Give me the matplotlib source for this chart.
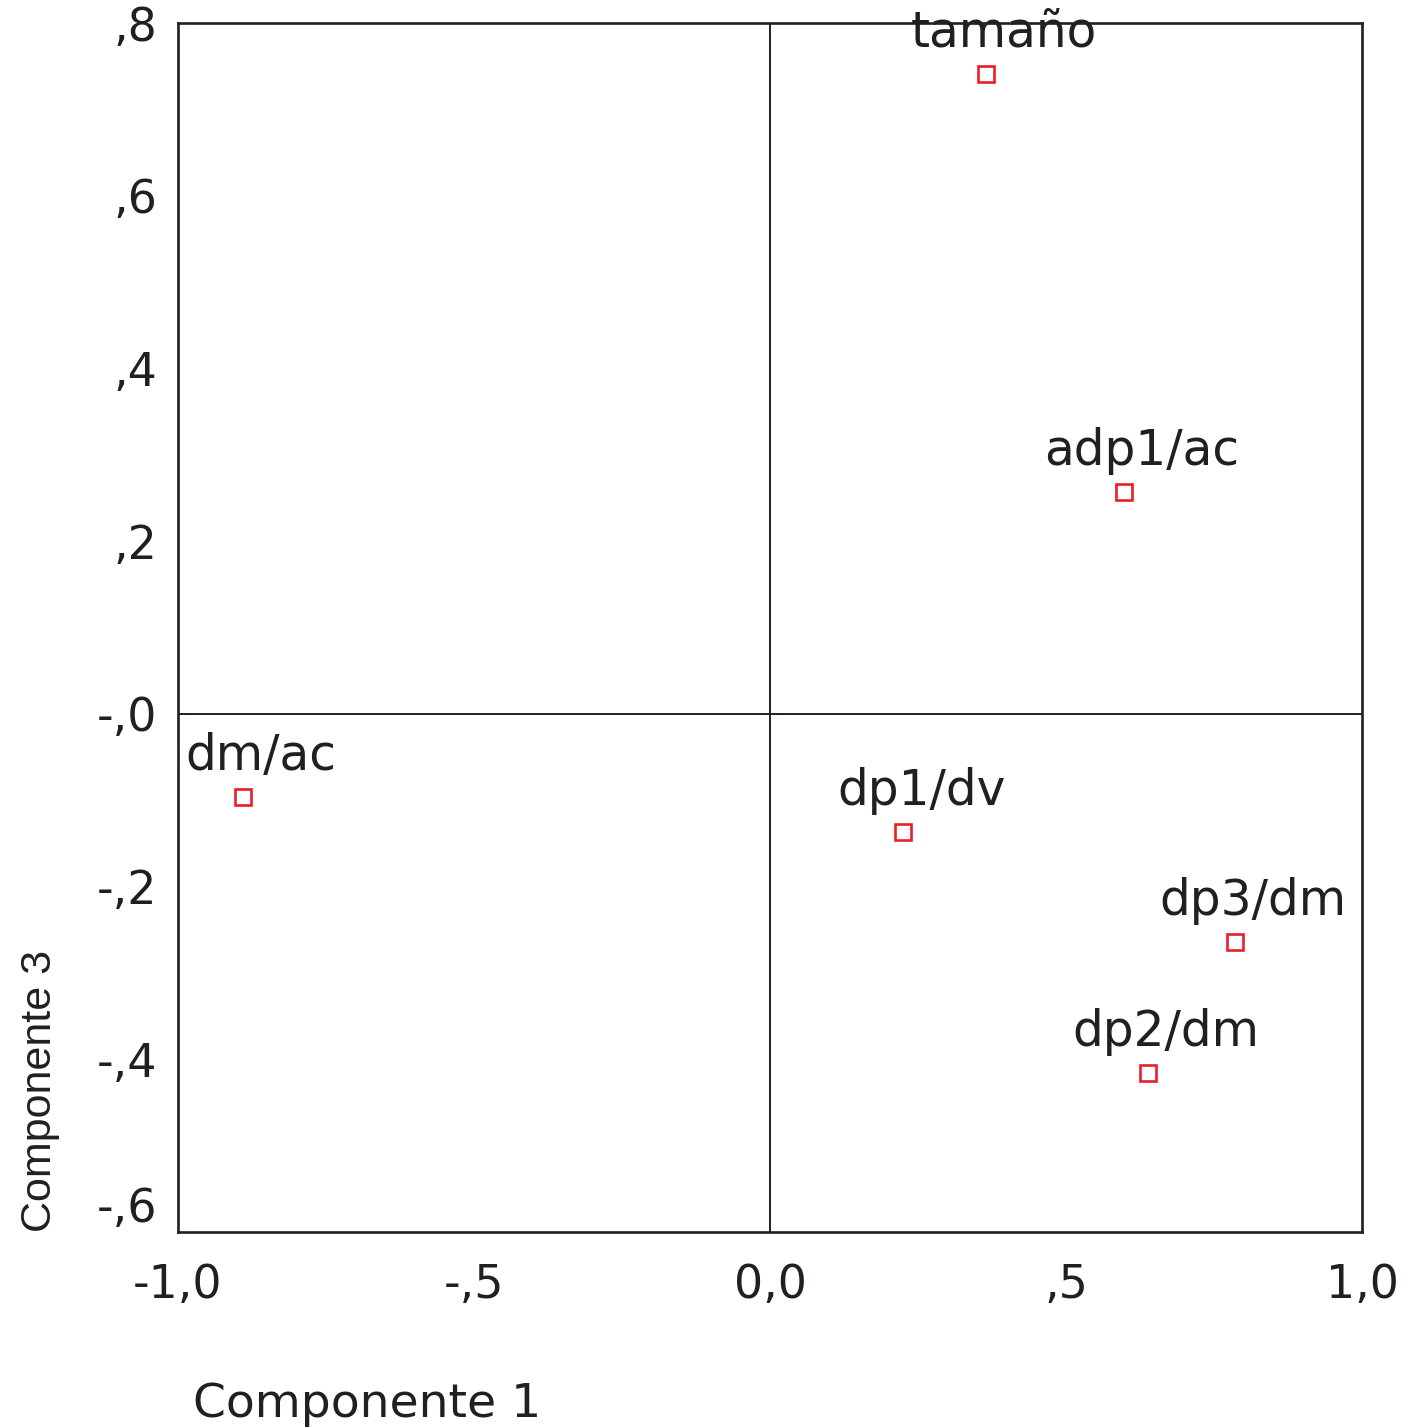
import numpy as np
import matplotlib
matplotlib.use("Agg")
import matplotlib.pyplot as plt

# Component loadings (component 1 vs component 3)
variables = ["tamaño", "adp1/ac", "dm/ac", "dp1/dv", "dp3/dm", "dp2/dm"]
comp1 = [0.365, 0.598, -0.891, 0.225, 0.785, 0.639]
comp3 = [0.741, 0.257, -0.096, -0.137, -0.264, -0.416]

xticks = [-1.0, -0.5, 0.0, 0.5, 1.0]
xticklabels = ["-1,0", "-,5", "0,0", ",5", "1,0"]
yticks = [-0.6, -0.4, -0.2, 0.0, 0.2, 0.4, 0.6, 0.8]
yticklabels = ["-,6", "-,4", "-,2", "-,0", ",2", ",4", ",6", ",8"]

ink = "#231f20"
red = "#e8202a"

plt.rcParams["font.family"] = ["DejaVu Sans"]

fig = plt.figure(figsize=(14.11, 14.28), dpi=100)
ax = fig.add_axes([0.12615, 0.13725, 0.83912, 0.84664])

ax.axhline(0, color=ink, lw=1.4, zorder=1)
ax.axvline(0, color=ink, lw=1.4, zorder=1)

ax.plot(comp1, comp3, linestyle="none", marker="s", markersize=12,
        markerfacecolor="white", markeredgecolor=red, markeredgewidth=1.9,
        zorder=3)

for name, x, y in zip(variables, comp1, comp3):
    ax.annotate(name, (x, y), xytext=(13, 19.5), textcoords="offset points",
                ha="center", va="baseline", fontsize=35, color=ink)

ax.set_xlim(-1.0, 1.0)
ax.set_ylim(-0.6, 0.8)
ax.set_xticks(xticks)
ax.set_xticklabels(xticklabels)
ax.set_yticks(yticks)
ax.set_yticklabels(yticklabels)
ax.tick_params(axis="both", length=0, labelsize=33, colors=ink)
ax.tick_params(axis="x", pad=22)
ax.tick_params(axis="y", pad=15)
ax.get_yticklabels()[0].set_va("bottom")

for s in ax.spines.values():
    s.set_linewidth(1.9)
    s.set_color(ink)

ax.set_xlabel("Componente 1", fontsize=34, color=ink, ha="left", va="top")
ax.xaxis.set_label_coords(0.013, -0.124)
ax.set_ylabel("Componente 3", fontsize=31, color=ink, ha="left",
              va="bottom", family=["Liberation Sans"])
ax.yaxis.set_label_coords(-0.1, 0.0)

fig.savefig("out.png", dpi=100, facecolor="white")
